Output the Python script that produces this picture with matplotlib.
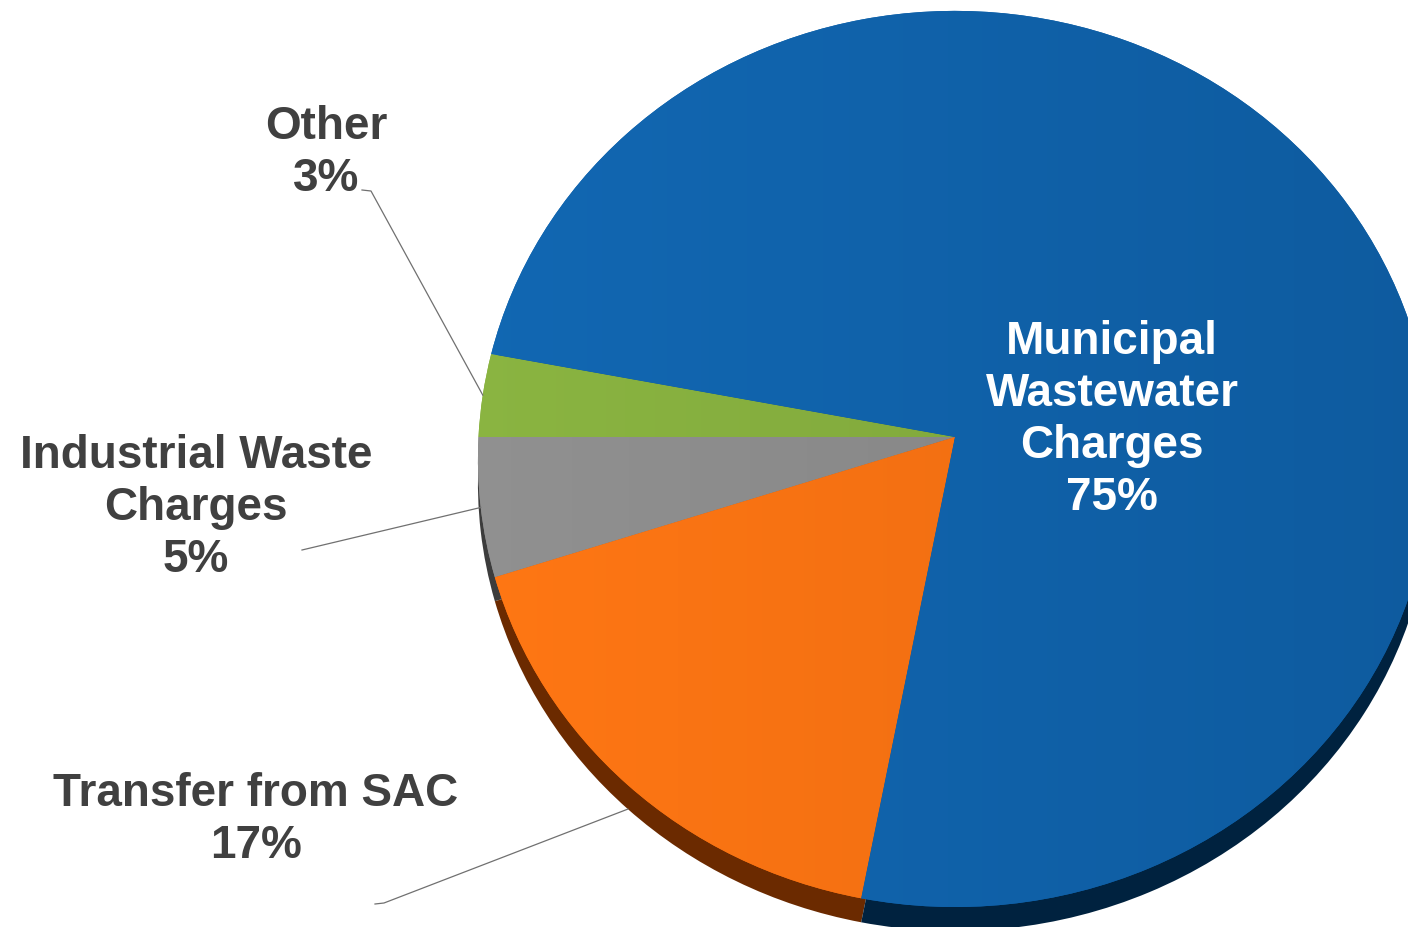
import numpy as np
import matplotlib
matplotlib.use("Agg")
import matplotlib.pyplot as plt
import matplotlib.colors as mcolors
import matplotlib.transforms as mtransforms

# Data (counter-clockwise, starting with the Other slice)
labels = ["Other", "Industrial Waste\nCharges", "Transfer from SAC", "Municipal\nWastewater\nCharges"]
shares = [3, 5, 17, 75]
colors = ["#84ad3d", "#8a8a8a", "#f97111", "#0f62ab"]
rim_colors = ["#3f5a14", "#3c3c3c", "#6b2a00", "#00223f"]

plt.rcParams['font.family'] = ['Liberation Sans', 'DejaVu Sans']

W, H = 1408, 928
fig = plt.figure(figsize=(W / 100, H / 100), dpi=100)
ax = fig.add_axes([0, 0, 1, 1])


class Tilt(mtransforms.Transform):
    """Perspective tilt: front of the disc looks larger than the back."""
    input_dims = output_dims = 2

    def __init__(self, k):
        super().__init__()
        self.k = k

    def transform_non_affine(self, values):
        v = np.asarray(values, dtype=float)
        d = 1 + self.k * v[:, 1]
        return np.column_stack([v[:, 0] / d, v[:, 1] / d])


# pie placement in pixels
cx, cy = 955, 438       # apex of the slices
Ax, By = 476.5, 447     # horizontal / vertical scale
k = 0.049
rim = 24
start = 169.2

tilt = Tilt(k)
place_top = mtransforms.Affine2D().scale(Ax, By).translate(cx, H - cy)
place_rim = mtransforms.Affine2D().scale(Ax, By).translate(cx, H - cy - rim)
tr_top = tilt + place_top + ax.transData
tr_rim = tilt + place_rim + ax.transData

# side of the pie
rim_wedges, _ = ax.pie(shares, colors=rim_colors, startangle=start, counterclock=True,
                       radius=1, frame=True, wedgeprops=dict(linewidth=0))
for w in rim_wedges:
    w.set_transform(tr_rim)

# top surface
wedges, _ = ax.pie(shares, colors=colors, startangle=start, counterclock=True,
                   radius=1, frame=True, wedgeprops=dict(linewidth=0))
for w in wedges:
    w.set_transform(tr_top)

# light -> dark horizontal shading on each slice
grad = np.linspace(0, 1, 256).reshape(1, -1)
for w, c in zip(wedges, colors):
    rgb = np.array(mcolors.to_rgb(c))
    cmap = mcolors.LinearSegmentedColormap.from_list(
        "g", [np.clip(rgb * 1.03 + 0.01, 0, 1), rgb * 0.93])
    im = ax.imshow(grad, cmap=cmap, extent=(cx - Ax - 10, cx + Ax + 10, 0, H),
                   aspect='auto', zorder=w.get_zorder() + 0.1)
    im.set_clip_path(w)

ax.set_xlim(0, W)
ax.set_ylim(0, H)
ax.set_aspect('auto')
ax.axis('off')

txt = dict(fontsize=33, fontweight='bold', color='#404040',
           ha='center', va='center', linespacing=1.24)

# outside labels: text centre and leader start (pixels from top-left)
label_pos = [(326, 153), (196, 508), (256, 820)]
leader_start = [[(362, 191), (371, 192)], [(302, 551)], [(375, 905), (384, 904)]]

for i in range(3):
    w = wedges[i]
    ax.text(label_pos[i][0], H - label_pos[i][1], f"{labels[i]}\n{shares[i]}%", **txt)
    mid = np.deg2rad((w.theta1 + w.theta2) / 2)
    edge = (tilt + (place_rim if np.sin(mid) < -0.3 else place_top)).transform(
        [[np.cos(mid), np.sin(mid)]])[0]
    pts = [(x, H - y) for x, y in leader_start[i]] + [tuple(edge)]
    xs, ys = zip(*pts)
    ax.plot(xs, ys, color='#707070', lw=0.9, zorder=5)

ax.text(1112, H - 420, f"{labels[3]}\n{shares[3]}%",
        **{**txt, 'color': 'white'}, zorder=6)

fig.savefig("out.png", dpi=100)
